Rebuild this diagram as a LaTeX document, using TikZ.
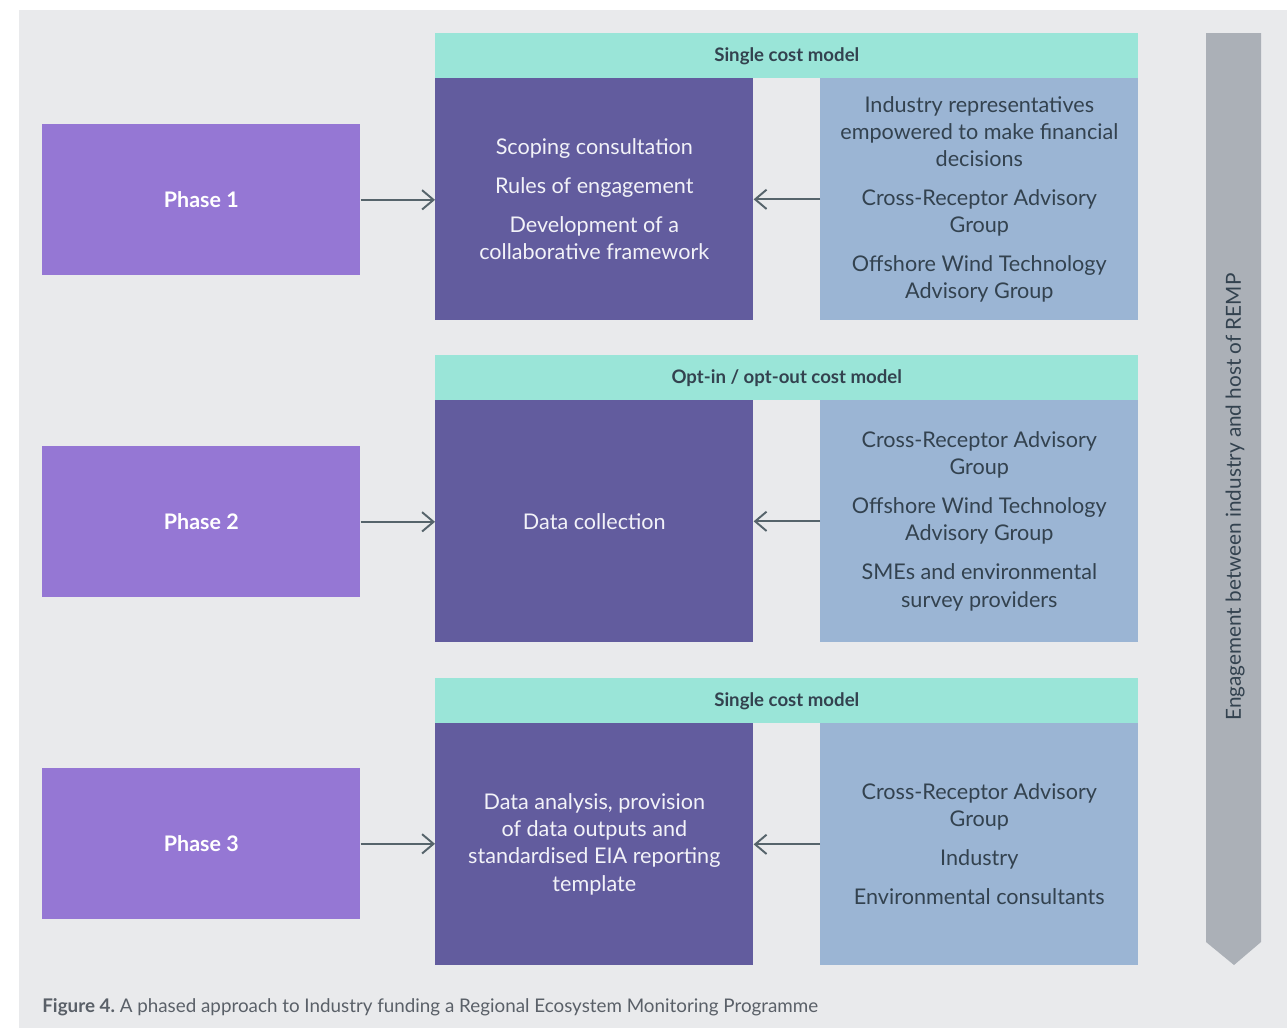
\documentclass[tikz,border=0pt]{standalone}
\usepackage{fontspec}
\setmainfont{Lato}
\usetikzlibrary{arrows.meta}
\definecolor{bgc}{HTML}{E9EAEC}
\definecolor{phasec}{HTML}{9577D4}
\definecolor{tealc}{HTML}{9AE5D8}
\definecolor{darkc}{HTML}{625C9E}
\definecolor{bluec}{HTML}{9BB5D4}
\definecolor{arrc}{HTML}{56646B}
\definecolor{vgray}{HTML}{ABB0B7}
\definecolor{txtdark}{HTML}{33424F}
\definecolor{txtlight}{HTML}{F2F2F8}
\definecolor{capc}{HTML}{5A6068}
\tikzset{
  boxbase/.style={anchor=north west, inner sep=0pt, align=center, font=\fontsize{12.3pt}{15.4pt}\selectfont},
  phasebox/.style={boxbase, fill=phasec, text=white, font=\fontsize{12.2pt}{15.4pt}\selectfont\bfseries, minimum width=6.36cm, minimum height=3.02cm},
  headbox/.style={boxbase, fill=tealc, text=txtdark, font=\fontsize{10.6pt}{12pt}\selectfont\bfseries, minimum width=14.06cm, minimum height=0.9cm},
  darkbox/.style={boxbase, fill=darkc, text=txtlight, minimum width=6.36cm, minimum height=4.84cm},
  bluebox/.style={boxbase, fill=bluec, text=txtdark, minimum width=6.36cm, minimum height=4.84cm},
  conn/.style={draw=arrc, line width=1.1pt, -{Straight Barb[length=6.5pt,width=11pt,line width=1.1pt]}}
}
\newcommand{\gsep}{\\[6.8pt]}
\begin{document}
\begin{tikzpicture}[x=0.02cm,y=-0.02cm]
\useasboundingbox (0,0) rectangle (1287,1028);
\fill[bgc] (19,10) rectangle (1287,1028);

% Phase 1
\node[phasebox] (p1) at (42,124) {Phase 1};
\node[headbox] (h1) at (435,33) {Single cost model};
\node[darkbox] (d1) at (435,78) {Scoping consultation\gsep Rules of engagement\gsep Development of a\\collaborative framework};
\node[bluebox] (b1) at (820,78) {Industry representatives\\empowered to make financial\\decisions\gsep Cross-Receptor Advisory\\Group\gsep Offshore Wind Technology\\Advisory Group};

% Phase 2
\node[phasebox] (p2) at (42,446) {Phase 2};
\node[headbox] (h2) at (435,355) {Opt-in / opt-out cost model};
\node[darkbox] (d2) at (435,400) {Data collection};
\node[bluebox] (b2) at (820,400) {Cross-Receptor Advisory\\Group\gsep Offshore Wind Technology\\Advisory Group\gsep SMEs and environmental\\survey providers};

% Phase 3
\node[phasebox] (p3) at (42,768) {Phase 3};
\node[headbox] (h3) at (435,678) {Single cost model};
\node[darkbox] (d3) at (435,723) {Data analysis, provision\\of data outputs and\\standardised EIA reporting\\template};
\node[bluebox] (b3) at (820,723) {Cross-Receptor Advisory\\Group\gsep Industry\gsep Environmental consultants};

% connectors
\foreach \i in {1,2,3}{
  \draw[conn] (p\i.east) -- (p\i.east -| d\i.west);
  \draw[conn] (b\i.west) -- (b\i.west -| d\i.east);
}

% vertical arrow
\fill[vgray] (1206,33) -- (1261,33) -- (1261,942) -- (1234,965) -- (1206,942) -- cycle;
\node[rotate=90, text=txtdark, font=\fontsize{11.8pt}{13pt}\selectfont] (vt) at (1235,497) {Engagement between industry and host of REMP};

% caption
\node[anchor=west, text=capc, font=\fontsize{10.7pt}{12pt}\selectfont, inner sep=0pt] (cap) at (42,1007) {\textbf{Figure 4.}~A phased approach to Industry funding a Regional Ecosystem Monitoring Programme};
\end{tikzpicture}
\end{document}
